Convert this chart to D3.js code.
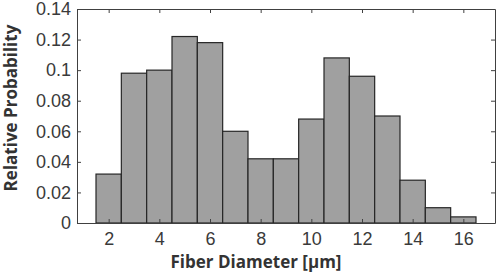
<!DOCTYPE html>
<html>
<head>
<meta charset="utf-8">
<script src="https://cdn.jsdelivr.net/npm/d3@7"></script>
<style>
  body { margin: 0; background: #fff; }
  .tick text { font-family: "Liberation Sans", sans-serif; font-size: 18px; fill: #3a3a3a; }
  .axis-label { font-family: "Open Sans", "DejaVu Sans", sans-serif; font-weight: bold; font-size: 17px; fill: #333; }
</style>
</head>
<body>
<svg width="498" height="276"></svg>
<script>
// histogram bins (left edge, right edge) and relative probability
const binStart = [1.5, 2.5, 3.5, 4.5, 5.5, 6.5, 7.5, 8.5, 9.5, 10.5, 11.5, 12.5, 13.5, 14.5, 15.5];
const binEnd   = [2.5, 3.5, 4.5, 5.5, 6.5, 7.5, 8.5, 9.5, 10.5, 11.5, 12.5, 13.5, 14.5, 15.5, 16.5];
const probs    = [0.032, 0.098, 0.100, 0.122, 0.118, 0.060, 0.042, 0.042, 0.068, 0.108, 0.096, 0.070, 0.028, 0.010, 0.004];
const xTicks = [2, 4, 6, 8, 10, 12, 14, 16];
const yTicks = [0, 0.02, 0.04, 0.06, 0.08, 0.1, 0.12, 0.14];

const data = binStart.map((s, i) => ({ x0: s, x1: binEnd[i], p: probs[i] }));

const svg = d3.select("svg");
const margin = { top: 9, right: 3, bottom: 53, left: 77 };
const width = +svg.attr("width") - margin.left - margin.right;
const height = +svg.attr("height") - margin.top - margin.bottom;

const g = svg.append("g")
  .attr("transform", `translate(${margin.left},${margin.top})`);

const x = d3.scaleLinear().domain([0.75, 17.25]).range([0, width]);
const y = d3.scaleLinear().domain([0, 0.14]).range([height, 0]);

g.selectAll("rect")
  .data(data)
  .join("rect")
  .attr("x", d => x(d.x0))
  .attr("y", d => y(d.p))
  .attr("width", d => x(d.x1) - x(d.x0))
  .attr("height", d => y(0) - y(d.p))
  .attr("fill", "#a0a0a0")
  .attr("stroke", "#262626")
  .attr("stroke-width", 1.2);

const fmt = d => d === 0 ? "0" : d3.format("")(+d.toFixed(2));

// bottom + top, left + right (box with inward ticks)
const xb = g.append("g").attr("transform", `translate(0,${height})`)
  .call(d3.axisBottom(x).tickValues(xTicks).tickSizeInner(-4).tickSizeOuter(0).tickPadding(9));
const xt = g.append("g")
  .call(d3.axisTop(x).tickValues(xTicks).tickSizeInner(-4).tickSizeOuter(0).tickFormat(""));
const yl = g.append("g")
  .call(d3.axisLeft(y).tickValues(yTicks).tickSizeInner(-4).tickSizeOuter(0).tickPadding(6).tickFormat(fmt));
const yr = g.append("g").attr("transform", `translate(${width},0)`)
  .call(d3.axisRight(y).tickValues(yTicks).tickSizeInner(-4).tickSizeOuter(0).tickFormat(""));

[xb, xt, yl, yr].forEach(a => {
  a.select(".domain").attr("stroke", "#404040").attr("stroke-width", 1);
  a.selectAll(".tick line").attr("stroke", "#404040");
});

g.append("text")
  .attr("class", "axis-label")
  .attr("x", 256 - margin.left)
  .attr("y", height + 45)
  .attr("text-anchor", "middle")
  .text("Fiber Diameter [μm]");

g.append("text")
  .attr("class", "axis-label")
  .attr("transform", "rotate(-90)")
  .attr("x", -(108 - margin.top))
  .attr("y", 17 - margin.left)
  .attr("text-anchor", "middle")
  .text("Relative Probability");
</script>
</body>
</html>
